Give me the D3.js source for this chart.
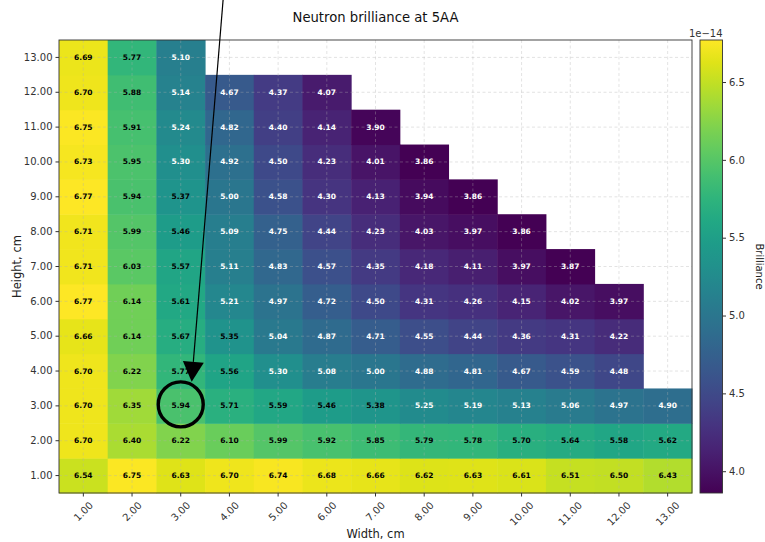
<!DOCTYPE html>
<html>
<head>
<meta charset="utf-8">
<script src="https://cdn.jsdelivr.net/npm/d3@7"></script>
<style>
  body { margin: 0; background: #fff; }
  svg { display: block; font-family: "DejaVu Sans", sans-serif; }
</style>
</head>
<body>
<svg id="chart" width="765" height="542"></svg>
<script>
// ---- data (values in units of 1e-14) ----
const widths = [1, 2, 3, 4, 5, 6, 7, 8, 9, 10, 11, 12, 13];
const heights = [1, 2, 3, 4, 5, 6, 7, 8, 9, 10, 11, 12, 13];
// brilliance[h-1][w-1]; rows are shorter where no value exists
const brilliance = [
  [6.54, 6.75, 6.63, 6.70, 6.74, 6.68, 6.66, 6.62, 6.63, 6.61, 6.51, 6.50, 6.43], // h=1
  [6.70, 6.40, 6.22, 6.10, 5.99, 5.92, 5.85, 5.79, 5.78, 5.70, 5.64, 5.58, 5.62], // h=2
  [6.70, 6.35, 5.94, 5.71, 5.59, 5.46, 5.38, 5.25, 5.19, 5.13, 5.06, 4.97, 4.90], // h=3
  [6.70, 6.22, 5.77, 5.56, 5.30, 5.08, 5.00, 4.88, 4.81, 4.67, 4.59, 4.48],       // h=4
  [6.66, 6.14, 5.67, 5.35, 5.04, 4.87, 4.71, 4.55, 4.44, 4.36, 4.31, 4.22],       // h=5
  [6.77, 6.14, 5.61, 5.21, 4.97, 4.72, 4.50, 4.31, 4.26, 4.15, 4.02, 3.97],       // h=6
  [6.71, 6.03, 5.57, 5.11, 4.83, 4.57, 4.35, 4.18, 4.11, 3.97, 3.87],             // h=7
  [6.71, 5.99, 5.46, 5.09, 4.75, 4.44, 4.23, 4.03, 3.97, 3.86],                   // h=8
  [6.77, 5.94, 5.37, 5.00, 4.58, 4.30, 4.13, 3.94, 3.86],                         // h=9
  [6.73, 5.95, 5.30, 4.92, 4.50, 4.23, 4.01, 3.86],                               // h=10
  [6.75, 5.91, 5.24, 4.82, 4.40, 4.14, 3.90],                                     // h=11
  [6.70, 5.88, 5.14, 4.67, 4.37, 4.07],                                           // h=12
  [6.69, 5.77, 5.10]                                                              // h=13
];
const colorTicks = [4.0, 4.5, 5.0, 5.5, 6.0, 6.5];
const title = "Neutron brilliance at 5AA";
const xLabel = "Width, cm";
const yLabel = "Height, cm";
const cLabel = "Brilliance";
const cExponent = "1e\u221214";
// annotation: highlighted cell and arrow (data coordinates)
const highlightCell = [3, 3];
const arrowFrom = [3.87, 14.65];
const arrowTo = [3.225, 3.69];

// ---- layout ----
const svg = d3.select("#chart");
const L = 59, R = 692, T = 40, B = 493;

const cells = [];
brilliance.forEach((row, hi) => row.forEach((v, wi) => cells.push({ w: widths[wi], h: heights[hi], v })));
const allVals = cells.map(d => d.v);
const vmin = d3.min(allVals), vmax = d3.max(allVals);

const x = d3.scaleBand().domain(widths).range([L, R]);
const y = d3.scaleBand().domain(heights).range([B, T]);
const xc = d3.scaleLinear().domain([0.5, 13.5]).range([L, R]);
const yc = d3.scaleLinear().domain([0.5, 13.5]).range([B, T]);
const color = d3.scaleSequential(d3.interpolateViridis).domain([vmin, vmax]);
const mid = (vmin + vmax) / 2;

// cells
svg.append("g").selectAll("rect").data(cells).join("rect")
  .attr("x", d => x(d.w)).attr("y", d => y(d.h))
  .attr("width", x.bandwidth() + 0.5).attr("height", y.bandwidth() + 0.5)
  .attr("fill", d => color(d.v));

// grid
const grid = svg.append("g").attr("stroke", "#b0b0b0").attr("stroke-opacity", 0.45)
  .attr("stroke-width", 0.8).attr("stroke-dasharray", "3,2.5");
widths.forEach(w => {
  const px = x(w) + x.bandwidth() / 2;
  grid.append("line").attr("x1", px).attr("x2", px).attr("y1", T).attr("y2", B);
});
heights.forEach(h => {
  const py = y(h) + y.bandwidth() / 2;
  grid.append("line").attr("x1", L).attr("x2", R).attr("y1", py).attr("y2", py);
});

// cell labels
svg.append("g").selectAll("text").data(cells).join("text")
  .attr("x", d => x(d.w) + x.bandwidth() / 2)
  .attr("y", d => y(d.h) + y.bandwidth() / 2)
  .attr("text-anchor", "middle").attr("dominant-baseline", "central")
  .attr("font-size", 7.5).attr("font-weight", "bold")
  .attr("fill", d => d.v > mid ? "#000" : "#fff")
  .text(d => d.v.toFixed(2));

// frame
svg.append("rect").attr("x", L).attr("y", T).attr("width", R - L).attr("height", B - T)
  .attr("fill", "none").attr("stroke", "#333").attr("stroke-width", 0.9);

// y axis
const yAxis = svg.append("g").attr("transform", `translate(${L},0)`)
  .call(d3.axisLeft(y).tickSize(3.5).tickPadding(3).tickFormat(d => d.toFixed(2)));
yAxis.select(".domain").remove();
yAxis.selectAll("line").attr("stroke", "#333");
yAxis.selectAll("text").attr("font-size", 10).attr("fill", "#333").attr("font-family", "DejaVu Sans");

// x axis
const xAxis = svg.append("g").attr("transform", `translate(0,${B})`)
  .call(d3.axisBottom(x).tickSize(3.5).tickFormat(d => d.toFixed(2)));
xAxis.select(".domain").remove();
xAxis.selectAll("line").attr("stroke", "#333");
xAxis.selectAll("text").remove();
xAxis.selectAll(".tick").each(function (d) {
  const g = d3.select(this);
  const t = g.append("text").attr("font-size", 10).attr("fill", "#333")
    .attr("font-family", "DejaVu Sans")
    .attr("text-anchor", "middle").attr("dominant-baseline", "central")
    .text(d.toFixed(2));
  const w = t.node().getComputedTextLength();
  const side = (w + 10) * Math.SQRT1_2;
  const cy = 7 + side / 2;
  t.attr("transform", `translate(0,${cy}) rotate(-45)`);
});

// axis labels
svg.append("text").attr("x", (L + R) / 2).attr("y", 538).attr("text-anchor", "middle")
  .attr("font-size", 11.5).attr("fill", "#222").text(xLabel);
svg.append("text").attr("transform", `translate(21,${(T + B) / 2}) rotate(-90)`)
  .attr("text-anchor", "middle").attr("font-size", 11.5).attr("fill", "#222").text(yLabel);
svg.append("text").attr("x", (L + R) / 2).attr("y", 22).attr("text-anchor", "middle")
  .attr("font-size", 13.2).attr("fill", "#111").text(title);

// colorbar
const cbX = 700, cbW = 22.5;
const cy2 = d3.scaleLinear().domain([vmin, vmax]).range([B, T]);
const defs = svg.append("defs");
const grad = defs.append("linearGradient").attr("id", "cbgrad")
  .attr("x1", 0).attr("y1", 1).attr("x2", 0).attr("y2", 0);
d3.range(0, 1.0001, 0.05).forEach(t => {
  grad.append("stop").attr("offset", t).attr("stop-color", d3.interpolateViridis(t));
});
svg.append("rect").attr("x", cbX).attr("y", T).attr("width", cbW).attr("height", B - T)
  .attr("fill", "url(#cbgrad)").attr("stroke", "#333").attr("stroke-width", 0.9);
const cAxis = svg.append("g").attr("transform", `translate(${cbX + cbW},0)`)
  .call(d3.axisRight(cy2).tickValues(colorTicks).tickSize(3.5).tickPadding(3).tickFormat(d3.format(".1f")));
cAxis.select(".domain").remove();
cAxis.selectAll("line").attr("stroke", "#333");
cAxis.selectAll("text").attr("font-size", 10).attr("fill", "#333").attr("font-family", "DejaVu Sans");
svg.append("text").attr("x", cbX + cbW).attr("y", 37).attr("text-anchor", "end")
  .attr("font-size", 10).attr("fill", "#333").text(cExponent);
svg.append("text").attr("transform", `translate(756,${(T + B) / 2}) rotate(90)`)
  .attr("text-anchor", "middle").attr("font-size", 10).attr("fill", "#222").text(cLabel);

// annotation circle
svg.append("circle")
  .attr("cx", x(highlightCell[0]) + x.bandwidth() / 2)
  .attr("cy", y(highlightCell[1]) + y.bandwidth() / 2 - 1.5)
  .attr("r", 22.5).attr("fill", "none").attr("stroke", "#000").attr("stroke-width", 3.4);

// arrow
const p0 = [xc(arrowFrom[0]), yc(arrowFrom[1])];
const p1 = [xc(arrowTo[0]), yc(arrowTo[1])];
const dx = p1[0] - p0[0], dy = p1[1] - p0[1];
const len = Math.hypot(dx, dy);
const ux = dx / len, uy = dy / len;
const headL = 20, headW = 10.5;
const bx = p1[0] - ux * headL, by = p1[1] - uy * headL;
svg.append("line").attr("x1", p0[0]).attr("y1", p0[1]).attr("x2", bx).attr("y2", by)
  .attr("stroke", "#000").attr("stroke-width", 1.2);
svg.append("polygon")
  .attr("points", [[p1[0], p1[1]], [bx - uy * headW, by + ux * headW], [bx + uy * headW, by - ux * headW]]
    .map(p => p.join(",")).join(" "))
  .attr("fill", "#000");
</script>
</body>
</html>
